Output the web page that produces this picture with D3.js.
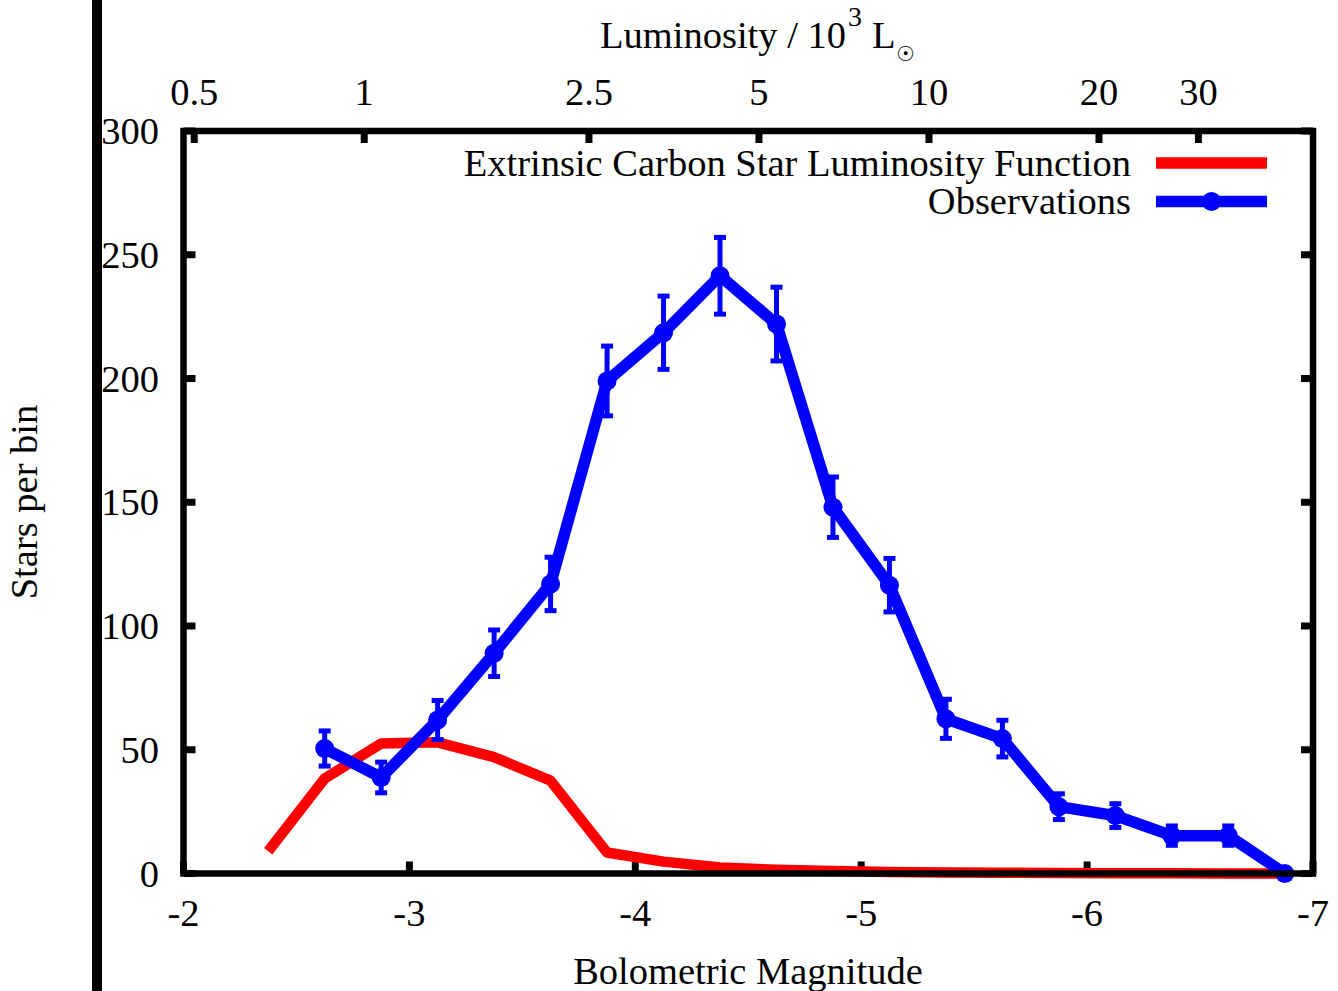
<!DOCTYPE html>
<html>
<head>
<meta charset="utf-8">
<script src="https://cdn.jsdelivr.net/npm/d3@7"></script>
<style>
  body { margin: 0; background: #fff; }
  svg text { font-family: "Liberation Serif", "Times New Roman", serif; fill: #000; }
</style>
</head>
<body>
<script>
// model: extrinsic carbon star luminosity function
var modelMag = [-2.375, -2.625, -2.875, -3.125, -3.375, -3.625, -3.875, -4.125, -4.375, -4.625,
                -4.875, -5.125, -5.375, -5.625, -5.875, -6.125, -6.375, -6.625, -6.875];
var modelStars = [9, 38.4, 52.5, 53, 47, 37.5, 8.5, 4.8, 2.4, 1.5,
                  1.0, 0.6, 0.4, 0.3, 0.2, 0.1, 0.1, 0, 0];

// observations with error bars
var obsMag = [-2.625, -2.875, -3.125, -3.375, -3.625, -3.875, -4.125, -4.375, -4.625,
              -4.875, -5.125, -5.375, -5.625, -5.875, -6.125, -6.375, -6.625, -6.875];
var obsStars = [50.5, 38.8, 62, 89, 117, 199, 218.5, 241.5, 222,
                148, 116.5, 62.5, 54.5, 27, 23.4, 15.3, 15.3, 0];
var obsErr = [7.1, 6.2, 7.9, 9.4, 10.8, 14.1, 14.8, 15.5, 14.9,
              12.2, 10.8, 7.9, 7.4, 5.2, 4.8, 3.9, 3.9, 0];

var magTicks = [-2, -3, -4, -5, -6, -7];
var starTicks = [0, 50, 100, 150, 200, 250, 300];
var lumTicks = [0.5, 1, 2.5, 5, 10, 20, 30];   // in 10^3 Lsun
var mSun = 4.70;

var W = 1338, H = 991;
var x0 = 183.5, x1 = 1313, y0 = 873.5, y1 = 131;
var red = "#ff0000", blue = "#0000ff";
var fs = 38.5;

var svg = d3.select("body").append("svg")
    .attr("width", W).attr("height", H);

var x = d3.scaleLinear().domain([-2, -7]).range([x0, x1]);
var y = d3.scaleLinear().domain([0, 300]).range([y0, y1]);
// luminosity (10^3 Lsun) at the two ends of the magnitude axis
function magToLum(m) { return Math.pow(10, (mSun - m) / 2.5) / 1000; }
var xl = d3.scaleLog().domain([magToLum(-2), magToLum(-7)]).range([x0, x1]);

// thick bar on the left
svg.append("line").attr("x1", 97).attr("x2", 97).attr("y1", 0).attr("y2", H)
    .attr("stroke", "#000").attr("stroke-width", 10);

var tickLen = 12, tickW = 7;
var ticks = svg.append("g").attr("stroke", "#000").attr("stroke-width", tickW);
magTicks.forEach(function(m) {
  ticks.append("line").attr("x1", x(m)).attr("x2", x(m)).attr("y1", y0).attr("y2", y0 - tickLen);
});
lumTicks.forEach(function(l) {
  ticks.append("line").attr("x1", xl(l)).attr("x2", xl(l)).attr("y1", y1).attr("y2", y1 + tickLen);
});
starTicks.forEach(function(s) {
  ticks.append("line").attr("x1", x0).attr("x2", x0 + tickLen).attr("y1", y(s)).attr("y2", y(s));
  ticks.append("line").attr("x1", x1).attr("x2", x1 - tickLen).attr("y1", y(s)).attr("y2", y(s));
});

// tick labels
svg.selectAll("text.xt").data(magTicks).enter().append("text")
    .attr("x", function(d) { return x(d); }).attr("y", 926)
    .attr("text-anchor", "middle").style("font-size", fs + "px")
    .text(function(d) { return d; });
svg.selectAll("text.lt").data(lumTicks).enter().append("text")
    .attr("x", function(d) { return xl(d); }).attr("y", 105)
    .attr("text-anchor", "middle").style("font-size", fs + "px")
    .text(function(d) { return d; });
svg.selectAll("text.yt").data(starTicks).enter().append("text")
    .attr("x", 159).attr("y", function(d) { return y(d) + 13; })
    .attr("text-anchor", "end").style("font-size", fs + "px")
    .text(function(d) { return d; });

// axis titles
svg.append("text").attr("x", 748).attr("y", 984).attr("text-anchor", "middle")
    .style("font-size", fs + "px").text("Bolometric Magnitude");
svg.append("text").attr("transform", "translate(37,502) rotate(-90)").attr("text-anchor", "middle")
    .style("font-size", fs + "px").text("Stars per bin");
svg.append("text").attr("x", 600).attr("y", 48).style("font-size", fs + "px").text("Luminosity / 10");
svg.append("text").attr("x", 848).attr("y", 26).style("font-size", "28px").text("3");
svg.append("text").attr("x", 872).attr("y", 48).style("font-size", fs + "px").text("L");
svg.append("text").attr("x", 896).attr("y", 61).style("font-size", "21px")
    .style("font-family", "DejaVu Sans").text("\u2609");

// model line
var line = d3.line().x(function(d) { return x(d[0]); }).y(function(d) { return y(d[1]); });
svg.append("path").datum(d3.zip(modelMag, modelStars)).attr("d", line)
    .attr("fill", "none").attr("stroke", red).attr("stroke-width", 10.5)
    .attr("stroke-linejoin", "round");

// observations
var obs = d3.zip(obsMag, obsStars, obsErr);
svg.append("path").datum(obs).attr("d", line)
    .attr("fill", "none").attr("stroke", blue).attr("stroke-width", 11.5)
    .attr("stroke-linejoin", "round");
var eb = svg.append("g").attr("stroke", blue);
obs.forEach(function(d) {
  if (d[2] <= 0) return;
  var cx = x(d[0]), yt = y(d[1] + d[2]), yb = y(d[1] - d[2]);
  eb.append("line").attr("x1", cx).attr("x2", cx).attr("y1", yt).attr("y2", yb).attr("stroke-width", 5);
  eb.append("line").attr("x1", cx - 6).attr("x2", cx + 6).attr("y1", yt).attr("y2", yt).attr("stroke-width", 5);
  eb.append("line").attr("x1", cx - 6).attr("x2", cx + 6).attr("y1", yb).attr("y2", yb).attr("stroke-width", 5);
});
svg.selectAll("circle.obs").data(obs).enter().append("circle")
    .attr("cx", function(d) { return x(d[0]); }).attr("cy", function(d) { return y(d[1]); })
    .attr("r", 9.5).attr("fill", blue);

// frame
svg.append("rect").attr("x", x0).attr("y", y1).attr("width", x1 - x0).attr("height", y0 - y1)
    .attr("fill", "none").attr("stroke", "#000").attr("stroke-width", 6.5);

// legend
var legend = [["Extrinsic Carbon Star Luminosity Function", red, false],
              ["Observations", blue, true]];
legend.forEach(function(d, i) {
  var ly = 163 + i * 38.5;
  svg.append("text").attr("x", 1131).attr("y", ly + 12.5).attr("text-anchor", "end")
      .style("font-size", fs + "px").text(d[0]);
  svg.append("line").attr("x1", 1156).attr("x2", 1267).attr("y1", ly).attr("y2", ly)
      .attr("stroke", d[1]).attr("stroke-width", 11.5);
  if (d[2]) svg.append("circle").attr("cx", 1211.5).attr("cy", ly).attr("r", 9.5).attr("fill", d[1]);
});
</script>
</body>
</html>
